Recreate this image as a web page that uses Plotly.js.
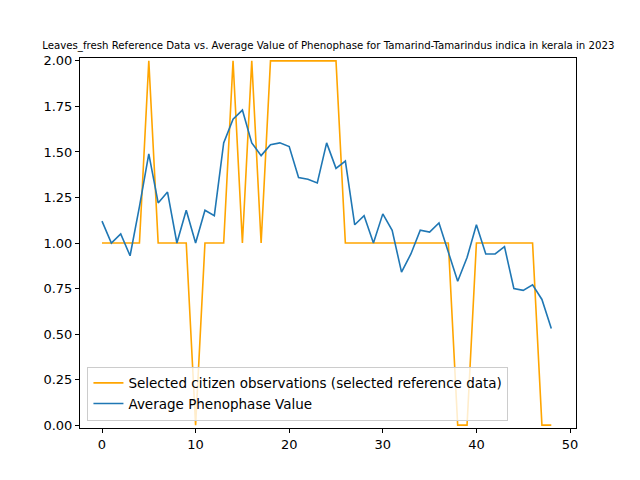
<!DOCTYPE html>
<html><head><script src="https://cdn.plot.ly/plotly-3.0.1.min.js"></script></head>
<body style="margin:0"><div id="c" style="width:640px;height:480px"></div>
<script>
const xs = Array.from({length:49},(_,i)=>i);
const refVals = [1,1,1,1,1,2,1,1,1,1,0,1,1,1,2,1,2,1,2,2,2,2,2,2,2,2,1,1,1,1,1,1,1,1,1,1,1,1,0,0,1,1,1,1,1,1,1,0,0];
const avgVals = [1.12,1.0,1.05,0.93,1.2,1.49,1.22,1.28,1.0,1.18,1.0,1.18,1.15,1.55,1.68,1.73,1.55,1.48,1.54,1.55,1.53,1.36,1.35,1.33,1.55,1.41,1.45,1.1,1.15,1.0,1.16,1.07,0.84,0.94,1.07,1.06,1.11,0.95,0.79,0.92,1.1,0.94,0.94,0.98,0.75,0.74,0.77,0.69,0.53];
const ax = {showgrid:false, zeroline:false, showline:true, mirror:true, linecolor:'#000', ticks:'outside', ticklen:4, tickcolor:'#000', tickfont:{size:13,color:'#000'}};
Plotly.newPlot('c',[
 {x:xs,y:refVals,mode:'lines',line:{color:'orange',width:1.6},name:'Selected citizen observations (selected reference data)'},
 {x:xs,y:avgVals,mode:'lines',line:{color:'#1f77b4',width:1.6},name:'Average Phenophase Value'}
],{
 width:640,height:480,margin:{l:80,r:64,t:58,b:52},
 paper_bgcolor:'#fff',plot_bgcolor:'#fff',
 font:{family:'DejaVu Sans',color:'#000'},
 title:{text:'Leaves_fresh Reference Data vs. Average Value of Phenophase for Tamarind-Tamarindus indica in kerala in 2023',font:{size:10.2},x:0.513,xanchor:'center',y:0.912},
 xaxis:Object.assign({range:[-2.35,50.64],tickvals:[0,10,20,30,40,50]},ax),
 yaxis:Object.assign({range:[-0.016,2.016],tickvals:[0,0.25,0.5,0.75,1,1.25,1.5,1.75,2],ticktext:['0.00','0.25','0.50','0.75','1.00','1.25','1.50','1.75','2.00']},ax),
 legend:{x:0.015,y:0.02,xanchor:'left',yanchor:'bottom',bordercolor:'#ccc',borderwidth:1,bgcolor:'rgba(255,255,255,0.8)',font:{size:13.5}},
 showlegend:true
},{displayModeBar:false});
</script></body></html>
